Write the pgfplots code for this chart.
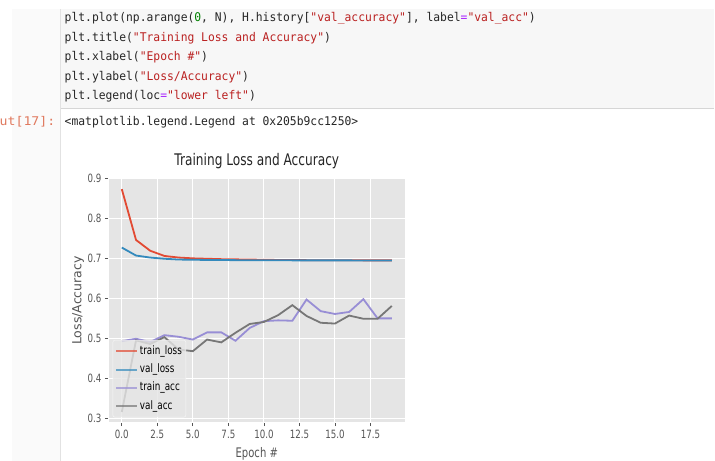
\documentclass[border=0pt]{standalone}
\usepackage{fontspec}
\usepackage{pgfplots}
\pgfplotsset{compat=1.18}
\newfontfamily\plotfont[FakeStretch=0.76]{DejaVu Sans}
\newfontfamily\plotrot{DejaVu Sans}
\newfontfamily\codefont[FakeStretch=0.945]{DejaVu Sans Mono}
\newfontfamily\promptfont[FakeStretch=1.1]{DejaVu Sans Mono}
\definecolor{ggbg}{HTML}{E5E5E5}
\definecolor{ggred}{HTML}{E24A33}
\definecolor{ggblue}{HTML}{348ABD}
\definecolor{ggpurple}{HTML}{988ED5}
\definecolor{gggray}{HTML}{777777}
\definecolor{ticktext}{HTML}{555555}
\definecolor{cstr}{HTML}{BA2121}
\definecolor{cop}{HTML}{AA22FF}
\definecolor{cnum}{HTML}{008000}
\definecolor{cprompt}{HTML}{E0795E}
\definecolor{cellbg}{HTML}{F7F7F7}
\definecolor{cellline}{HTML}{D6D6D6}
\newcommand{\str}[1]{\textcolor{cstr}{#1}}
\newcommand{\op}[1]{\textcolor{cop}{#1}}
\pgfplotstableread{
e trainloss valloss trainacc valacc
0 0.873 0.727 0.493 0.316
1 0.746 0.707 0.499 0.495
2 0.719 0.702 0.491 0.486
3 0.706 0.699 0.508 0.503
4 0.702 0.697 0.504 0.472
5 0.700 0.6965 0.497 0.468
6 0.699 0.696 0.515 0.497
7 0.698 0.6958 0.515 0.490
8 0.6975 0.6955 0.494 0.514
9 0.697 0.6953 0.526 0.536
10 0.6965 0.6952 0.543 0.541
11 0.696 0.6951 0.545 0.558
12 0.6958 0.695 0.544 0.583
13 0.6955 0.695 0.597 0.556
14 0.6953 0.695 0.568 0.539
15 0.6952 0.6949 0.561 0.537
16 0.6951 0.6949 0.566 0.557
17 0.695 0.6948 0.598 0.549
18 0.695 0.6948 0.550 0.549
19 0.6949 0.6948 0.550 0.581
}\hist
\begin{document}
\begin{tikzpicture}
% page background
\fill[white] (0,0) rectangle (715bp,461bp);
% left prompt strip
\fill[cellbg!60!white] (12bp,0) rectangle (60bp,452bp);
% code cell
\fill[cellbg] (60bp,352bp) rectangle (714bp,452bp);
\draw[cellline, line width=1bp] (60bp,352bp) -- (714bp,352bp);
\draw[cellline!70!white, line width=0.8bp] (60.5bp,0) -- (60.5bp,452bp);
% code text
\begin{scope}[every node/.style={anchor=base west, inner sep=0pt, font=\codefont\fontsize{12bp}{14bp}\selectfont, text=black!85}]
\node at (64.5bp,439bp) {plt.plot(np.arange(\textcolor{cnum}{0}, N), H.history[\str{"val\_accuracy"}], label\op{=}\str{"val\_acc"})};
\node at (64.5bp,419.5bp) {plt.title(\str{"Training Loss and Accuracy"})};
\node at (64.5bp,400bp) {plt.xlabel(\str{"Epoch \#"})};
\node at (64.5bp,380.5bp) {plt.ylabel(\str{"Loss/Accuracy"})};
\node at (64.5bp,361.5bp) {plt.legend(loc\op{=}\str{"lower left"})};
\node at (64.5bp,335.5bp) {<matplotlib.legend.Legend at 0x205b9cc1250>};
\end{scope}
\node[anchor=base east, inner sep=0pt, font=\promptfont\fontsize{12bp}{14bp}\selectfont, text=cprompt] at (55.5bp,335.5bp) {ut[17]:};
\begin{axis}[
  at={(108.3bp,38.3bp)}, anchor=south west,
  width=297bp, height=244.4bp, scale only axis,
  xmin=-0.95, xmax=19.95, ymin=0.2892, ymax=0.9001,
  axis background/.style={fill=ggbg},
  axis line style={white, line width=1bp},
  grid=major, major grid style={white, line width=1bp},
  tick align=outside, tick pos=left,
  major tick length=3.5bp,
  every tick/.style={ticktext, line width=0.8bp},
  xtick={0,2.5,5,7.5,10,12.5,15,17.5},
  xticklabels={0.0,2.5,5.0,7.5,10.0,12.5,15.0,17.5},
  ytick={0.3,0.4,0.5,0.6,0.7,0.8,0.9},
  yticklabels={0.3,0.4,0.5,0.6,0.7,0.8,0.9},
  ticklabel style={font=\plotfont\fontsize{11.4bp}{13bp}\selectfont, text=ticktext},
  title={Training Loss and Accuracy},
  title style={at={(axis description cs:0.5,1.0286)}, anchor=base, font=\plotfont\fontsize{16bp}{18bp}\selectfont, text=black!85},
  xlabel={Epoch \#},
  xlabel style={at={(axis description cs:0.5,-0.1416)}, anchor=base, font=\plotfont\fontsize{13.2bp}{15bp}\selectfont, text=ticktext},
  ylabel={Loss/Accuracy},
  ylabel style={at={(axis description cs:-0.102,0.5)}, anchor=center, rotate=0, font=\plotrot\fontsize{12.5bp}{14bp}\selectfont, text=ticktext},
  legend cell align=left,
  legend image code/.code={\draw[#1, line width=2bp] (0bp,0bp) -- (21bp,0bp);},
  legend style={at={(axis description cs:0.0148,0.022)}, anchor=south west,
    fill=ggbg, fill opacity=0.8, text opacity=1, draw=white, draw opacity=0.7,
    rounded corners=2bp, font=\plotfont\fontsize{11.6bp}{13bp}\selectfont,
    row sep=4.3bp, inner xsep=2.5bp, inner ysep=4bp,
    nodes={inner sep=1.5bp, text height=8.5bp, text depth=2.5bp}},
]
\addplot[ggred, line width=1.8bp] table[x=e, y=trainloss] {\hist};
\addlegendentry{train\_loss}
\addplot[ggblue, line width=1.8bp] table[x=e, y=valloss] {\hist};
\addlegendentry{val\_loss}
\addplot[ggpurple, line width=1.8bp] table[x=e, y=trainacc] {\hist};
\addlegendentry{train\_acc}
\addplot[gggray, line width=1.8bp] table[x=e, y=valacc] {\hist};
\addlegendentry{val\_acc}
\end{axis}
\pgfresetboundingbox
\path (0,0) rectangle (715bp,461bp);
\end{tikzpicture}
\end{document}
